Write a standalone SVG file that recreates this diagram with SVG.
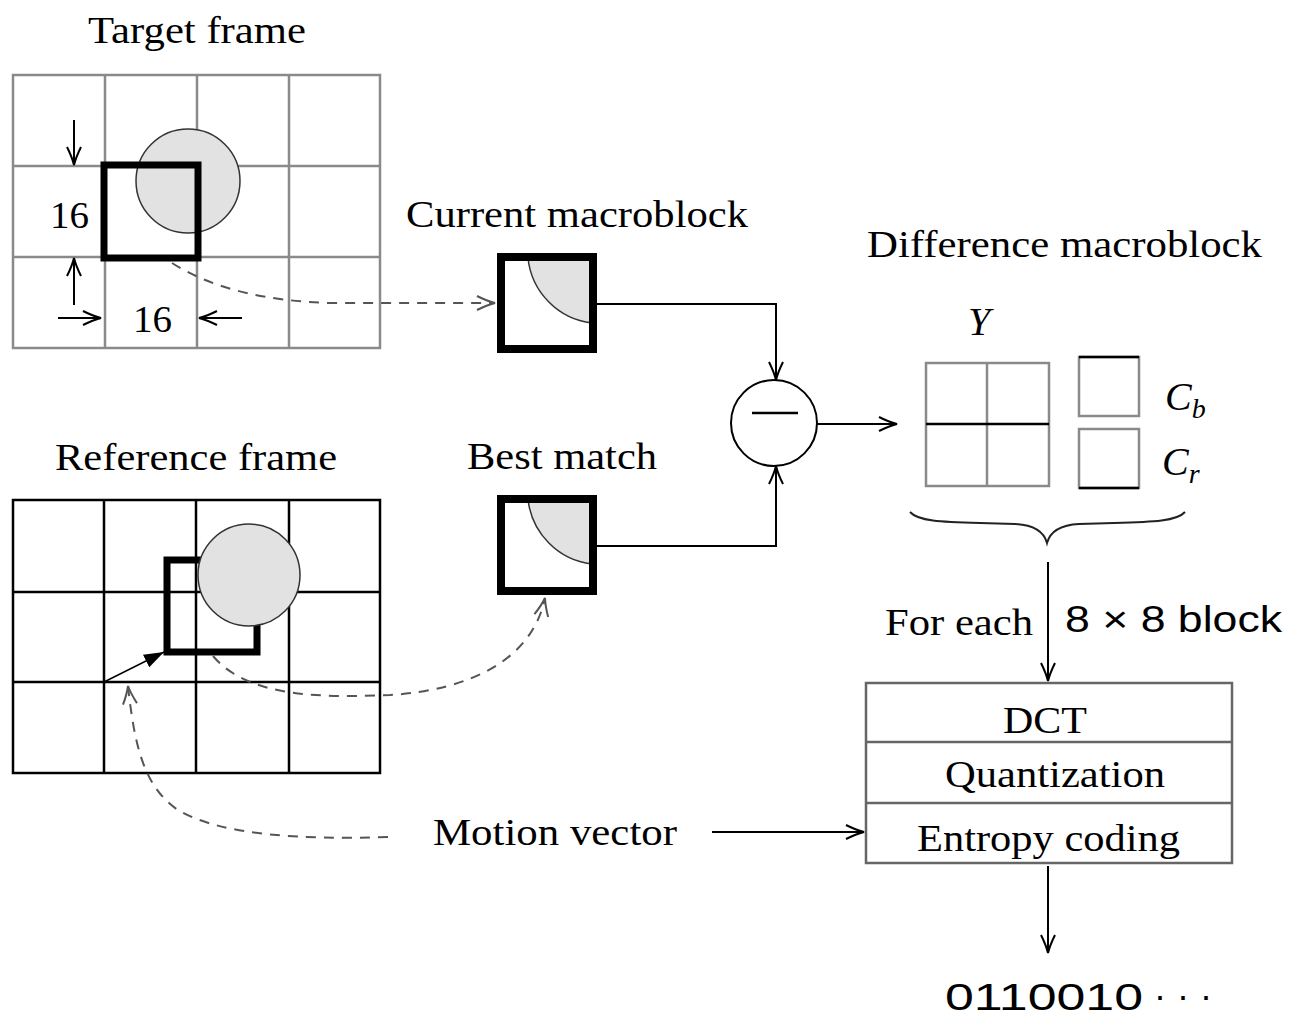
<svg xmlns="http://www.w3.org/2000/svg" width="1289" height="1017" viewBox="0 0 1289 1017">
<style>
.t{font-family:"Liberation Serif","Times New Roman",serif;font-size:37px;fill:#000}
.s{font-family:"Liberation Sans",Arial,sans-serif;font-size:36px;fill:#000}
.i{font-family:"Liberation Serif","Times New Roman",serif;font-style:italic;fill:#000}
.gg{stroke:#8a8a8a;stroke-width:2.5;fill:none}
.bg{stroke:#000;stroke-width:2.5;fill:none}
.bold{stroke:#000;stroke-width:7;fill:none}
.thin{stroke:#000;stroke-width:2;fill:none}
.dash{stroke:#555;stroke-width:2;fill:none;stroke-dasharray:10 8}
.blob{fill:#e2e2e2;stroke:#333;stroke-width:1.5}
</style>
<defs>
<marker id="ah" markerUnits="userSpaceOnUse" markerWidth="24" markerHeight="20" refX="20" refY="10" orient="auto">
<path d="M2,3 Q12,8 20,10 Q12,12 2,17" fill="none" stroke="#000" stroke-width="2"/>
</marker>
<marker id="ahd" markerUnits="userSpaceOnUse" markerWidth="24" markerHeight="20" refX="20" refY="10" orient="auto">
<path d="M2,3 Q12,8 20,10 Q12,12 2,17" fill="none" stroke="#555" stroke-width="2"/>
</marker>
<marker id="af" markerUnits="userSpaceOnUse" markerWidth="24" markerHeight="20" refX="20" refY="10" orient="auto">
<path d="M0,3 L20,10 L0,17 Z" fill="#000"/>
</marker>
</defs>

<g id="target-frame">
<text class="t" x="88" y="43" textLength="218" lengthAdjust="spacingAndGlyphs">Target frame</text>
<rect class="gg" x="13" y="75" width="367" height="273"/>
<path class="gg" d="M105,75V348M197,75V348M289,75V348M13,166H380M13,257H380"/>
<circle class="blob" cx="188" cy="181" r="52"/>
<rect class="bold" x="104" y="165" width="94" height="93"/>
<line class="thin" x1="74" y1="120" x2="74" y2="165" marker-end="url(#ah)"/>
<line class="thin" x1="74" y1="305" x2="74" y2="258" marker-end="url(#ah)"/>
<line class="thin" x1="58" y1="318" x2="101" y2="318" marker-end="url(#ah)"/>
<line class="thin" x1="242" y1="318" x2="199" y2="318" marker-end="url(#ah)"/>
<text class="t" x="50" y="228" textLength="39" lengthAdjust="spacingAndGlyphs">16</text>
<text class="t" x="133" y="332" textLength="39" lengthAdjust="spacingAndGlyphs">16</text>
</g>

<g id="reference-frame">
<text class="t" x="55" y="470" textLength="282" lengthAdjust="spacingAndGlyphs">Reference frame</text>
<rect class="bg" x="13" y="500" width="367" height="273"/>
<path class="bg" d="M104,500V773M196,500V773M289,500V773M13,592H380M13,682H380"/>
<rect class="bold" x="167" y="560" width="90" height="92"/>
<circle class="blob" cx="249" cy="575" r="51"/>
<line x1="104" y1="682" x2="164" y2="652" stroke="#000" stroke-width="1.5" marker-end="url(#af)"/>
</g>

<g id="current-macroblock">
<text class="t" x="406" y="227" textLength="342" lengthAdjust="spacingAndGlyphs">Current macroblock</text>
<path class="blob" d="M528,258 A73,73 0 0,0 592,323 L592,258 Z"/>
<rect x="501" y="257" width="92" height="92" fill="none" stroke="#000" stroke-width="8"/>
</g>

<g id="best-match">
<text class="t" x="467" y="469" textLength="190" lengthAdjust="spacingAndGlyphs">Best match</text>
<path class="blob" d="M528,499 A73,73 0 0,0 592,564 L592,499 Z"/>
<rect x="501" y="499" width="92" height="92" fill="none" stroke="#000" stroke-width="8"/>
</g>

<g id="subtractor">
<circle cx="774" cy="423" r="43" fill="#fff" stroke="#000" stroke-width="2"/>
<line x1="752" y1="413" x2="798" y2="413" stroke="#000" stroke-width="2.5"/>
</g>

<g id="difference-macroblock">
<text class="t" x="867" y="257" textLength="395" lengthAdjust="spacingAndGlyphs">Difference macroblock</text>
<text class="i" x="968" y="335" font-size="40">Y</text>
<rect class="gg" x="926" y="363" width="123" height="123"/>
<line class="gg" x1="987" y1="363" x2="987" y2="486"/>
<line class="bg" x1="926" y1="424" x2="1049" y2="424"/>
<rect class="gg" x="1079" y="357" width="60" height="59"/>
<line class="bg" x1="1079" y1="357" x2="1139" y2="357"/>
<rect class="gg" x="1079" y="429" width="60" height="59"/>
<line class="bg" x1="1079" y1="488" x2="1139" y2="488"/>
<text class="i" x="1165" y="410" font-size="40">C<tspan font-size="28" dy="8">b</tspan></text>
<text class="i" x="1162" y="475" font-size="40">C<tspan font-size="28" dy="8">r</tspan></text>
<path d="M910,512 C918,521 940,522 980,523 L1015,524 C1035,525 1044,532 1047,543 C1050,532 1059,525 1079,524 L1114,523 C1154,522 1177,521 1185,512" fill="none" stroke="#222" stroke-width="2"/>
</g>

<g id="coding-pipeline">
<rect x="866" y="683" width="366" height="180" fill="none" stroke="#666" stroke-width="2.5"/>
<path d="M866,742H1232M866,803H1232" stroke="#666" stroke-width="2.5" fill="none"/>
<text class="t" x="1003" y="733" textLength="84" lengthAdjust="spacingAndGlyphs">DCT</text>
<text class="t" x="945" y="787" textLength="220" lengthAdjust="spacingAndGlyphs">Quantization</text>
<text class="t" x="917" y="851" textLength="263" lengthAdjust="spacingAndGlyphs">Entropy coding</text>
</g>

<g id="labels">
<text class="t" x="885" y="635" textLength="148" lengthAdjust="spacingAndGlyphs">For each</text>
<text class="s" x="1065" y="632" textLength="217" lengthAdjust="spacingAndGlyphs">8 × 8 block</text>
<text class="t" x="433" y="845" textLength="244" lengthAdjust="spacingAndGlyphs">Motion vector</text>
<text class="s" x="945" y="1010" textLength="198" lengthAdjust="spacingAndGlyphs">0110010</text>
<text class="s" x="1154" y="1008" font-size="30" textLength="58" lengthAdjust="spacing">···</text>
</g>

<g id="connectors">
<path class="dash" d="M172,263 Q230,300 330,303 L495,303" marker-end="url(#ahd)"/>
<path class="dash" d="M213,656 C250,700 330,697 390,695 C470,690 532,660 545,598" marker-end="url(#ahd)"/>
<path class="dash" d="M388,837 C300,840 220,835 178,810 C142,786 134,740 128,686" marker-end="url(#ahd)"/>
<path class="thin" d="M597,304 H776 V380" marker-end="url(#ah)"/>
<path class="thin" d="M597,546 H776 V466" marker-end="url(#ah)"/>
<line class="thin" x1="817" y1="424" x2="897" y2="424" marker-end="url(#ah)"/>
<line class="thin" x1="1048" y1="562" x2="1048" y2="681" marker-end="url(#ah)"/>
<line class="thin" x1="712" y1="832" x2="864" y2="832" marker-end="url(#ah)"/>
<line class="thin" x1="1048" y1="866" x2="1048" y2="953" marker-end="url(#ah)"/>
</g>
</svg>
